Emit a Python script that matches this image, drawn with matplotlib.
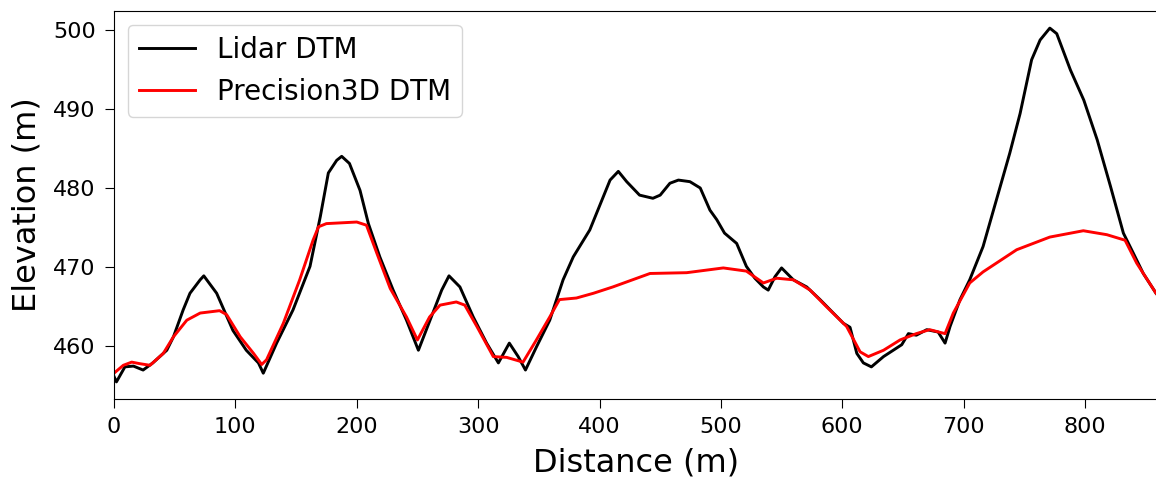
import matplotlib
matplotlib.use('Agg')
import matplotlib.pyplot as plt
import numpy as np

# Lidar DTM profile (distance m, elevation m)
lidar_x = [0, 2, 9, 16, 24, 32, 43.5, 49, 57, 62.6, 71, 74, 84.6, 98, 109, 119, 123,
           134, 147.5, 161.5, 170, 176.6, 183.5, 187.6, 194, 202.7, 209.6, 219, 230,
           241, 250.8, 260.4, 270, 276, 285, 296, 307, 316.7, 325.7, 333, 339, 348,
           359, 370, 378.4, 392, 408.7, 415.5, 422.4, 433, 444, 450, 458, 465, 474.5,
           483, 491, 496.6, 503, 513, 521, 528, 535, 539, 544.6, 550, 559.7, 570.7,
           581.7, 592.6, 601, 606.4, 612, 617.4, 624, 634, 642, 649, 654.5, 661,
           669.6, 679, 684.7, 688.8, 697, 705, 716, 727, 738, 746.5, 756, 763, 771,
           776.7, 788, 799, 810, 821, 831.6, 840, 848, 858.5]
lidar_y = [456.2, 455.5, 457.4, 457.5, 457.0, 457.9, 459.5, 461.2, 464.6, 466.7, 468.4,
           468.9, 466.7, 462.0, 459.5, 457.9, 456.6, 460.4, 464.6, 470.1, 476.4, 481.9,
           483.5, 484.0, 483.1, 479.7, 475.5, 471.3, 467.1, 463.3, 459.5, 463.3, 467.1,
           468.9, 467.5, 463.7, 460.4, 457.9, 460.4, 458.7, 457.0, 459.9, 463.3, 468.4,
           471.3, 474.7, 481.0, 482.1, 480.8, 479.1, 478.7, 479.1, 480.6, 481.0, 480.8,
           480.0, 477.2, 476.0, 474.3, 473.0, 470.1, 468.6, 467.5, 467.1, 468.8, 469.9,
           468.4, 467.5, 465.9, 464.2, 462.9, 462.4, 459.1, 457.9, 457.4, 458.7, 459.5,
           460.2, 461.6, 461.4, 462.1, 461.8, 460.4, 462.5, 465.9, 468.4, 472.6, 478.5,
           484.4, 489.4, 496.2, 498.7, 500.2, 499.5, 494.9, 491.1, 486.1, 480.2, 474.3,
           471.7, 469.2, 466.7]

# Precision3D DTM profile
p3d_x = [0, 7.7, 14.6, 21.4, 29.7, 40.6, 49, 60, 71, 87, 92.8, 104, 115, 121.7, 125.7,
         139.5, 153, 164, 168.5, 175, 200, 208, 216.7, 227.6, 241, 250, 260, 268.6,
         282, 289, 299, 312.5, 323.5, 337, 348, 359, 367, 381, 395, 411, 441.6, 471.8,
         502, 521, 535, 546, 559.7, 573.5, 587, 603.6, 614.7, 621.5, 634, 647.6, 661,
         672, 684.7, 691.5, 705, 716, 743.7, 771, 798.6, 818, 833, 842.6, 858.5]
p3d_y = [456.6, 457.6, 458.0, 457.8, 457.6, 459.1, 461.2, 463.3, 464.2, 464.5, 464.0,
         461.2, 459.1, 457.7, 458.3, 462.9, 468.4, 473.4, 475.1, 475.5, 475.7, 475.3,
         471.7, 467.3, 463.7, 460.8, 463.7, 465.2, 465.6, 465.2, 462.5, 458.7, 458.6,
         458.0, 460.8, 463.7, 465.9, 466.1, 466.7, 467.5, 469.2, 469.3, 469.9, 469.5,
         468.0, 468.6, 468.4, 467.1, 465.0, 462.5, 459.3, 458.7, 459.5, 460.8, 461.6,
         462.1, 461.6, 464.2, 468.0, 469.4, 472.2, 473.8, 474.6, 474.1, 473.4, 470.5,
         466.7]

fig = plt.figure(figsize=(11.56, 4.78), dpi=100)
ax = fig.add_axes([0.0986, 0.1646, 0.903, 0.813])
ax.plot(lidar_x, lidar_y, color='black', lw=2.1, label='Lidar DTM')
ax.plot(p3d_x, p3d_y, color='red', lw=2.1, label='Precision3D DTM')
ax.set_xlim(0, 860)
ax.set_ylim(453.3, 502.4)
ax.set_xticks(np.arange(0, 801, 100))
ax.set_yticks(np.arange(460, 501, 10))
ax.tick_params(labelsize=16, length=6.5, pad=6.5)
ax.set_xlabel('Distance (m)', fontsize=23, labelpad=7.5)
ax.set_ylabel('Elevation (m)', fontsize=23, labelpad=8)
ax.legend(loc='upper left', fontsize=20)
fig.savefig('out.png', dpi=100)
